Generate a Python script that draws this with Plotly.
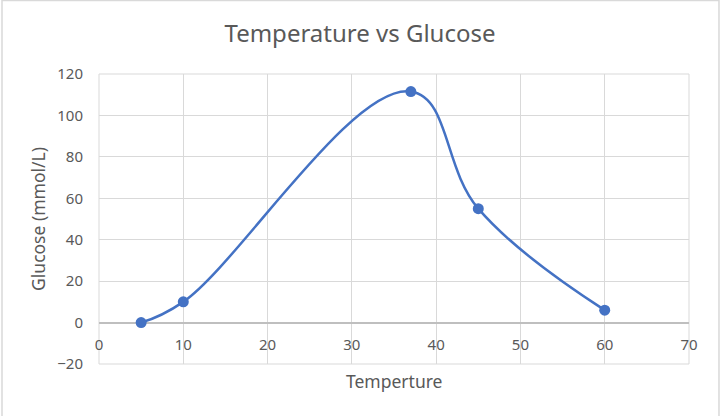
import plotly.graph_objects as go

# Data
temperature = [5, 10, 37, 45, 60]
glucose = [0, 10, 111.5, 55, 6]

x_ticks = [0, 10, 20, 30, 40, 50, 60, 70]
y_ticks = [-20, 0, 20, 40, 60, 80, 100, 120]

FONT = 'Noto Sans'
TEXT_COLOR = '#595959'
GRID_COLOR = '#d9d9d9'

fig = go.Figure(
    data=[go.Scatter(
        x=temperature,
        y=glucose,
        mode='lines+markers',
        line=dict(color='#4472C4', width=2.5, shape='spline', smoothing=1.15),
        marker=dict(color='#4472C4', size=11),
        showlegend=False
    )]
)

# x axis sits on y = 0, like Excel does it
y_min, y_max = y_ticks[0], y_ticks[-1]
x_axis_pos = (0 - y_min) / (y_max - y_min)

fig.update_layout(
    width=720, height=416,
    margin=dict(l=99, r=31, t=74, b=52),
    paper_bgcolor='white',
    plot_bgcolor='white',
    font=dict(family=FONT, color=TEXT_COLOR, size=15),
    title=dict(text='Temperature vs Glucose', x=0.5, y=0.92, xanchor='center',
               yanchor='middle', font=dict(size=24, color=TEXT_COLOR)),
    xaxis=dict(
        range=[x_ticks[0], x_ticks[-1]],
        tickvals=x_ticks,
        anchor='free', position=x_axis_pos,
        showgrid=True, gridcolor=GRID_COLOR, gridwidth=1,
        showline=False, zeroline=False,
        ticklabelstandoff=11,
        tickfont=dict(size=15, color=TEXT_COLOR)
    ),
    yaxis=dict(
        range=[y_min, y_max],
        tickvals=y_ticks,
        showgrid=True, gridcolor=GRID_COLOR, gridwidth=1,
        zeroline=True, zerolinecolor='#bfbfbf', zerolinewidth=1.5,
        showline=False,
        ticklabelstandoff=15,
        title=dict(text='Glucose (mmol/L)', font=dict(size=17.5, color=TEXT_COLOR), standoff=7),
        tickfont=dict(size=15, color=TEXT_COLOR)
    ),
    annotations=[dict(
        text='Temperture', xref='paper', yref='paper', x=0.5, y=-0.012,
        xanchor='center', yanchor='top', showarrow=False,
        font=dict(size=17.5, color=TEXT_COLOR)
    )],
    shapes=[
        # plot area outline (right and bottom edges)
        dict(type='rect', xref='paper', yref='paper', x0=0, x1=1, y0=0, y1=1,
             line=dict(color=GRID_COLOR, width=1), layer='below'),
        # chart border
        dict(type='rect', xref='paper', yref='paper', x0=-0.1644, x1=1.0508, y0=-0.3, y1=1.2534,
             line=dict(color='#d9d9d9', width=1.5), layer='below')
    ]
)

fig.write_html("out.html", config={'displayModeBar': False},
               post_script="document.body.style.margin='0';")
